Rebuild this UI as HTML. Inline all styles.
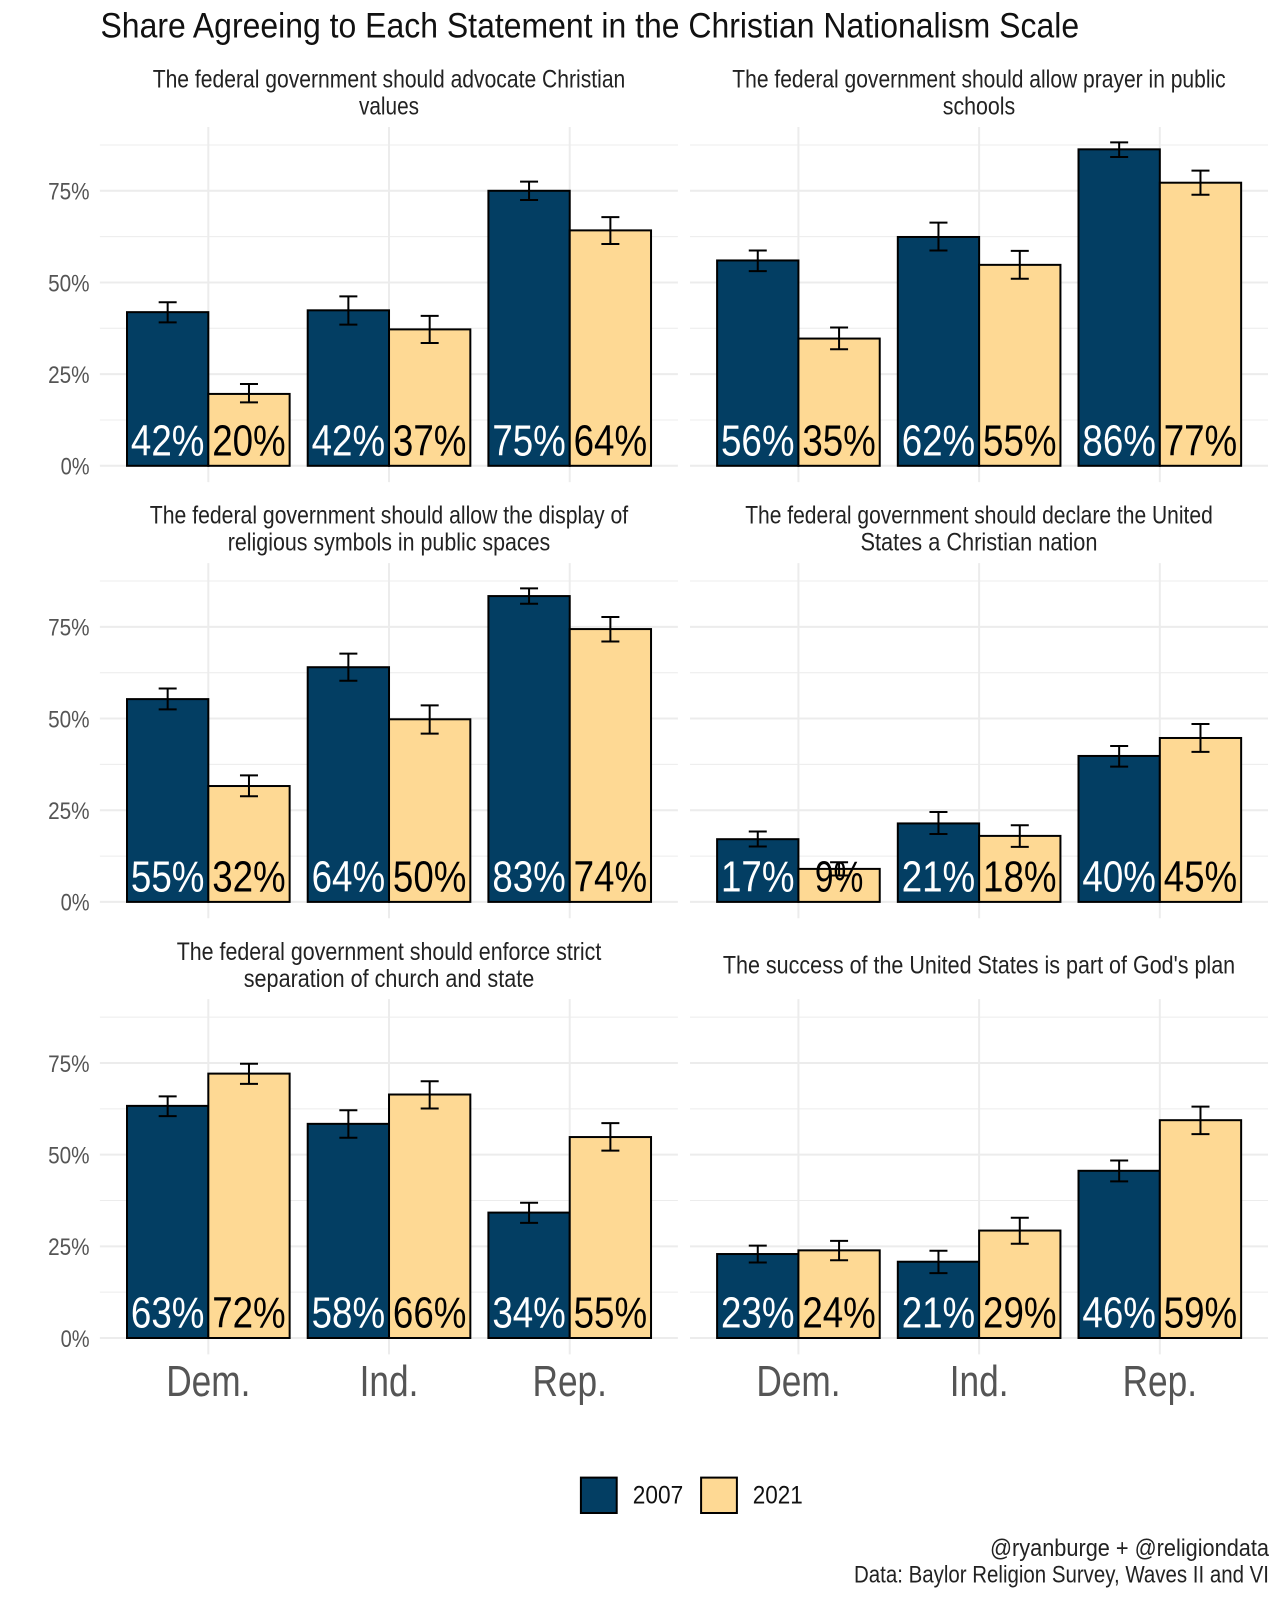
<!DOCTYPE html>
<html lang="en">
<head>
<meta charset="utf-8">
<title>Share Agreeing to Each Statement in the Christian Nationalism Scale</title>
<style>
html,body{margin:0;padding:0;background:#fff;}
svg{display:block;}
text{font-family:"Liberation Sans",sans-serif;}
.strip{font-size:25px;fill:#222;text-anchor:middle;}
</style>
</head>
<body>
<svg id="chart" xmlns="http://www.w3.org/2000/svg" width="1280" height="1600" viewBox="0 0 1280 1600">
<rect x="0" y="0" width="1280" height="1600" fill="#ffffff"/>
<text x="100.5" y="37.3" font-size="35.5" fill="#111" textLength="978.6" lengthAdjust="spacingAndGlyphs">Share Agreeing to Each Statement in the Christian Nationalism Scale</text>

<g>
<text class="strip" x="389" y="87.3" textLength="472.6" lengthAdjust="spacingAndGlyphs">The federal government should advocate Christian</text>
<text class="strip" x="389" y="114.3" textLength="60" lengthAdjust="spacingAndGlyphs">values</text>
<text class="strip" x="979" y="87.3" textLength="493.4" lengthAdjust="spacingAndGlyphs">The federal government should allow prayer in public</text>
<text class="strip" x="979" y="114.3" textLength="72.5" lengthAdjust="spacingAndGlyphs">schools</text>
<text class="strip" x="389" y="523.7" textLength="478.4" lengthAdjust="spacingAndGlyphs">The federal government should allow the display of</text>
<text class="strip" x="389" y="550.7" textLength="322.5" lengthAdjust="spacingAndGlyphs">religious symbols in public spaces</text>
<text class="strip" x="979" y="523.7" textLength="467.6" lengthAdjust="spacingAndGlyphs">The federal government should declare the United</text>
<text class="strip" x="979" y="550.7" textLength="237" lengthAdjust="spacingAndGlyphs">States a Christian nation</text>
<text class="strip" x="389" y="960.1" textLength="424.6" lengthAdjust="spacingAndGlyphs">The federal government should enforce strict</text>
<text class="strip" x="389" y="986.9" textLength="290.5" lengthAdjust="spacingAndGlyphs">separation of church and state</text>
<text class="strip" x="979" y="973.4" textLength="512.3" lengthAdjust="spacingAndGlyphs">The success of the United States is part of God's plan</text>
</g>

<g id="panels"></g>

<g>
<rect x="580.9" y="1477.6" width="35.8" height="35.4" fill="#033e63" stroke="#000" stroke-width="2"/>
<text x="632.8" y="1503.5" font-size="25" fill="#111" textLength="50.4" lengthAdjust="spacingAndGlyphs">2007</text>
<rect x="701.1" y="1477.6" width="35.8" height="35.4" fill="#fed994" stroke="#000" stroke-width="2"/>
<text x="752.8" y="1503.5" font-size="25" fill="#111" textLength="50" lengthAdjust="spacingAndGlyphs">2021</text>
</g>

<g>
<text x="1269" y="1556" font-size="24.5" fill="#222" text-anchor="end" textLength="279" lengthAdjust="spacingAndGlyphs">@ryanburge + @religiondata</text>
<text x="1269" y="1582.7" font-size="24.5" fill="#222" text-anchor="end" textLength="415" lengthAdjust="spacingAndGlyphs">Data: Baylor Religion Survey, Waves II and VI</text>
</g>
</svg>

<script>
var categories = ["Dem.", "Ind.", "Rep."];
var years = ["2007", "2021"];
var majorTicks = [0, 25, 50, 75];
var minorTicks = [12.5, 37.5, 62.5, 87.5];

var share2007 = [
  [41.9, 42.4, 75.0],
  [56.0, 62.4, 86.3],
  [55.3, 64.0, 83.4],
  [17.1, 21.4, 39.8],
  [63.3, 58.4, 34.2],
  [22.9, 20.8, 45.6]
];
var share2021 = [
  [19.6, 37.2, 64.2],
  [34.7, 54.8, 77.2],
  [31.6, 49.8, 74.4],
  [9.0, 18.0, 44.7],
  [72.1, 66.4, 54.8],
  [23.9, 29.3, 59.4]
];
var low2007 = [
  [39.1, 38.5, 72.5],
  [53.1, 58.7, 84.2],
  [52.5, 60.3, 81.3],
  [15.1, 18.5, 36.9],
  [60.5, 54.6, 31.4],
  [20.6, 17.7, 42.7]
];
var high2007 = [
  [44.6, 46.2, 77.5],
  [58.7, 66.3, 88.2],
  [58.2, 67.7, 85.5],
  [19.2, 24.5, 42.5],
  [65.9, 62.1, 36.9],
  [25.2, 23.8, 48.4]
];
var low2021 = [
  [17.3, 33.5, 60.5],
  [31.8, 51.0, 73.9],
  [28.8, 45.9, 71.0],
  [7.2, 15.0, 40.9],
  [69.3, 62.6, 51.1],
  [21.2, 25.7, 55.6]
];
var high2021 = [
  [22.3, 40.9, 67.8],
  [37.7, 58.6, 80.5],
  [34.5, 53.6, 77.7],
  [10.8, 20.9, 48.5],
  [74.8, 70.0, 58.6],
  [26.5, 32.8, 63.1]
];

var SVG_NS = "http://www.w3.org/2000/svg";
var GRID = "#ececec";
var FILLS = ["#033e63", "#fed994"];
var INKS = ["#ffffff", "#000000"];
var STEP = 180.7;
var PX_PER_PCT = 3.667;
var COL_LEFT = [99.9, 690];
var PANEL_W = 578;
var ROW_ZERO = 465.8;
var ROW_STEP = 436.1;

function xScale(col, cat) { return COL_LEFT[col] + (cat + 0.6) * STEP; }
function yScale(row, v) { return ROW_ZERO + row * ROW_STEP - v * PX_PER_PCT; }

function make(parent, tag, attrs, txt) {
  var el = document.createElementNS(SVG_NS, tag);
  for (var k in attrs) { el.setAttribute(k, attrs[k]); }
  if (txt !== undefined) { el.textContent = txt; }
  parent.appendChild(el);
  return el;
}

var root = document.getElementById("panels");

function drawPanel(p) {
  var col = p % 2;
  var row = Math.floor(p / 2);
  var left = COL_LEFT[col];
  var top = yScale(row, 92.4);
  var bottom = yScale(row, -4.45);

  var g = make(root, "g", {});
  
  

  minorTicks.forEach(function (t) {
    var line = make(g, "line", { x1: left, x2: left + PANEL_W, y1: yScale(row, t), y2: yScale(row, t), stroke: GRID, "stroke-width": 1 });
    
    
  });
  majorTicks.forEach(function (t) {
    var line = make(g, "line", { x1: left, x2: left + PANEL_W, y1: yScale(row, t), y2: yScale(row, t), stroke: GRID, "stroke-width": 2 });
    
    
  });
  categories.forEach(function (c, i) {
    var line = make(g, "line", { x1: xScale(col, i), x2: xScale(col, i), y1: top, y2: bottom, stroke: GRID, "stroke-width": 2 });
    
    
  });

  if (col === 0) {
    majorTicks.forEach(function (t) {
      var s = t + "%";
      var w = (s.length - 1) * 12.5 + 16.5;
      var label = make(g, "text", { x: 89.6, y: yScale(row, t) + 8.8, "font-size": 24, fill: "#555555", "text-anchor": "end", textLength: w, lengthAdjust: "spacingAndGlyphs" }, s);
      
      
    });
  }

  var series = [
    { val: share2007, lo: low2007, hi: high2007 },
    { val: share2021, lo: low2021, hi: high2021 }
  ];
  var half = 0.45 * STEP;
  var zero = yScale(row, 0);

  series.forEach(function (s, k) {
    categories.forEach(function (c, i) {
      var x = xScale(col, i) + (k - 1) * half;
      var y = yScale(row, s.val[p][i]);
      var bar = make(g, "rect", { x: x, y: y, width: half, height: zero - y, fill: FILLS[k], stroke: "#000", "stroke-width": 2 });
      
      
    });
  });

  series.forEach(function (s, k) {
    categories.forEach(function (c, i) {
      var cx = xScale(col, i) + (k - 0.5) * half;
      var yHi = yScale(row, s.hi[p][i]);
      var yLo = yScale(row, s.lo[p][i]);
      var d = "M" + (cx - 9) + " " + yHi + "H" + (cx + 9) + "M" + cx + " " + yHi + "V" + yLo + "M" + (cx - 9) + " " + yLo + "H" + (cx + 9);
      var err = make(g, "path", { d: d, fill: "none", stroke: "#000", "stroke-width": 2 });
      
      
    });
  });

  series.forEach(function (s, k) {
    categories.forEach(function (c, i) {
      var cx = xScale(col, i) + (k - 0.5) * half;
      var str = Math.round(s.val[p][i]) + "%";
      var w = (str.length - 1) * 25 + 23.5;
      var label = make(g, "text", { x: cx, y: zero - 10.3, "font-size": 43.5, fill: INKS[k], "text-anchor": "middle", textLength: w, lengthAdjust: "spacingAndGlyphs" }, str);
      
      
    });
  });

  if (row === 2) {
    categories.forEach(function (c, i) {
      var label = make(g, "text", { x: xScale(col, i), y: 1396.2, "font-size": 43.5, fill: "#555555", "text-anchor": "middle" }, c);
      
      
      var natural = label.getComputedTextLength();
      label.setAttribute("textLength", natural * 0.81);
      label.setAttribute("lengthAdjust", "spacingAndGlyphs");
    });
  }
}

for (var p = 0; p < share2007.length; p++) { drawPanel(p); }
</script>
</body>
</html>
